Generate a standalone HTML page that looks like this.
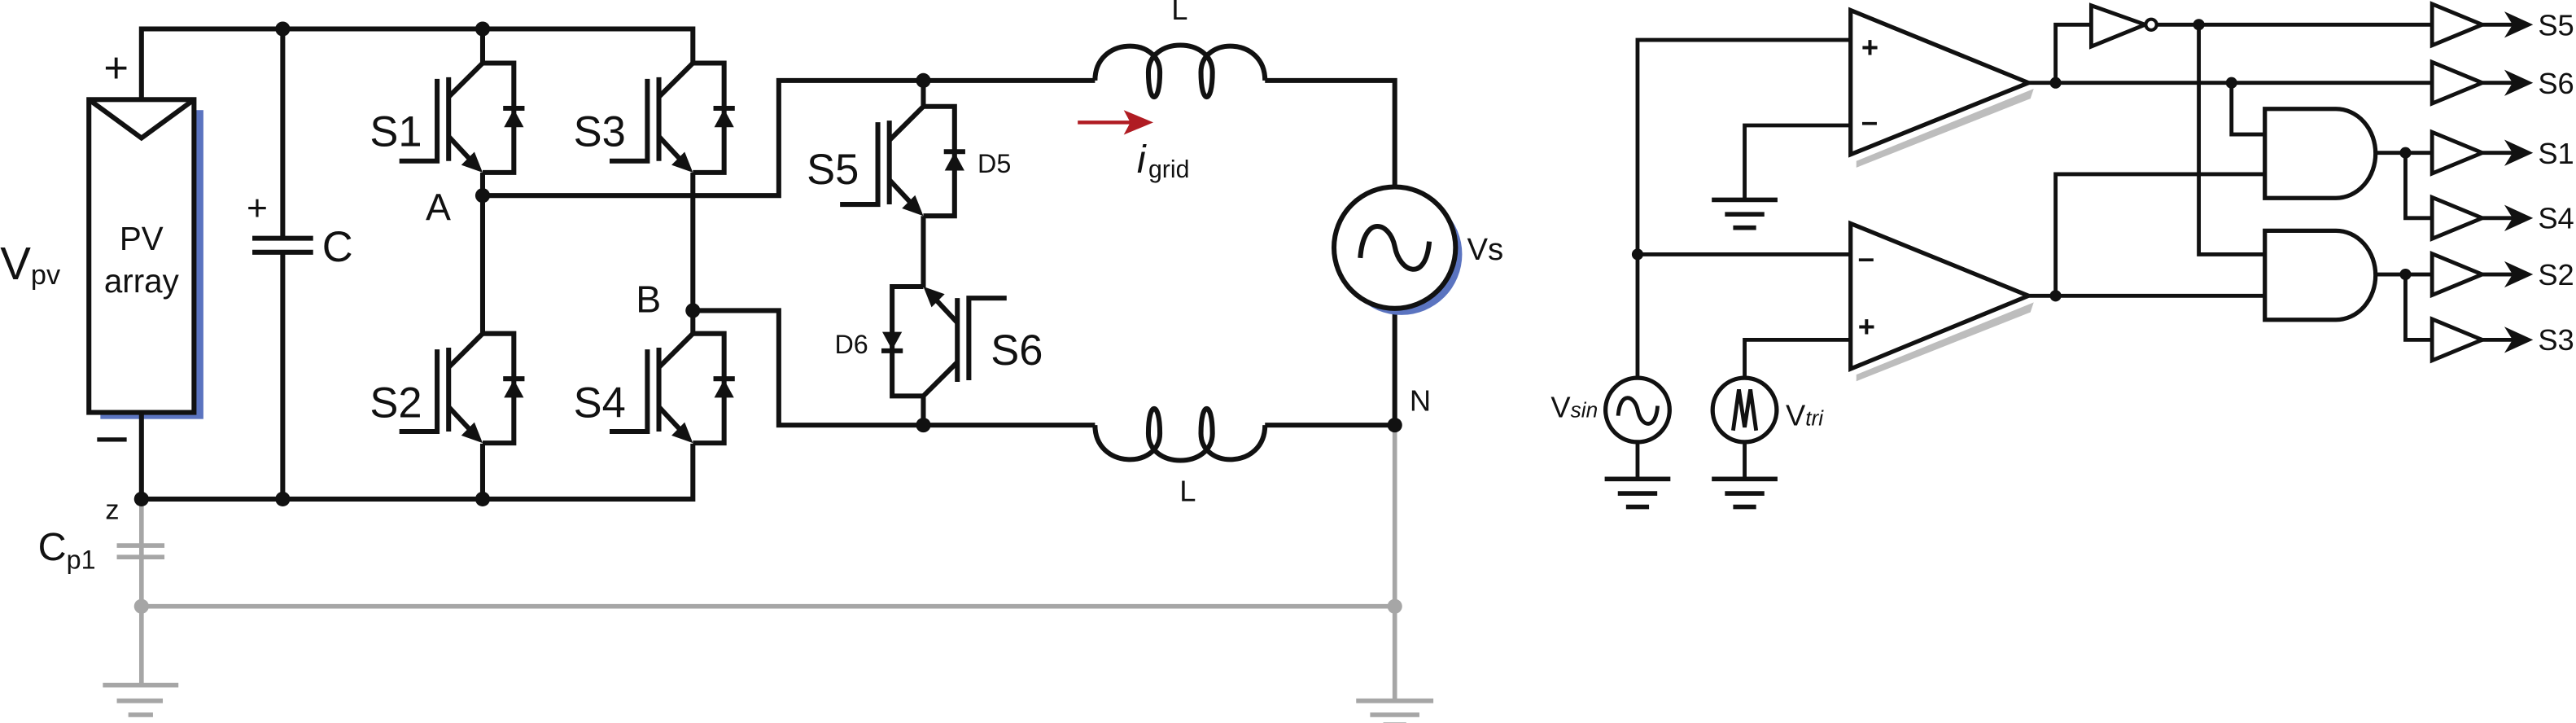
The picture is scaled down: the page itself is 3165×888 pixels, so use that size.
<!DOCTYPE html>
<html><head><meta charset="utf-8"><style>
html,body{margin:0;padding:0;background:#fff;}
svg{display:block;}
text{font-family:"Liberation Sans",sans-serif;fill:#111;}
</style></head><body>
<svg width="3165" height="888" viewBox="0 0 1568 440" xmlns="http://www.w3.org/2000/svg">
<defs>
<g id="igbt" fill="none" stroke="#111" stroke-width="3">
  <polyline points="0,0 -20.7,20.6"/>
  <line x1="-20.7" y1="8.6" x2="-20.7" y2="59.6"/>
  <polyline points="-50.7,59.6 -27.7,59.6 -27.7,9.6"/>
  <line x1="-20.7" y1="44.6" x2="-4" y2="62.5"/>
  <polygon points="0,66.6 -13,62 -5,54" fill="#111" stroke="none"/>
  <polyline points="0,0 19,0 19,66.6 0,66.6"/>
  <polygon points="13,39 25,39 19,28" fill="#111" stroke="none"/>
  <line x1="12.5" y1="27.5" x2="25.5" y2="27.5"/>
</g>
<g id="buf" fill="none" stroke="#111" stroke-width="2.4">
  <polygon points="0,-12.6 0,12.6 30.5,0" fill="#fff"/>
  <line x1="30.5" y1="0" x2="56" y2="0"/>
  <polygon points="61.5,0 44,-8 49,0 44,8" fill="#111" stroke="none"/>
</g>
<g id="gnd" stroke="#111" stroke-width="2.8">
  <line x1="-20" y1="0" x2="20" y2="0"/>
  <line x1="-12" y1="8.8" x2="12" y2="8.8"/>
  <line x1="-7" y1="17" x2="7" y2="17"/>
</g>
</defs>

<g stroke="#a6a6a6" stroke-width="2.8" fill="none">
  <line x1="86" y1="304" x2="86" y2="417"/>
  <line x1="71" y1="332" x2="100" y2="332"/>
  <line x1="71" y1="339" x2="100" y2="339"/>
  <line x1="86" y1="369" x2="849" y2="369"/>
  <line x1="849" y1="259" x2="849" y2="426.5"/>
  <line x1="62.5" y1="417" x2="108.5" y2="417"/>
  <line x1="71" y1="426.5" x2="99" y2="426.5"/>
  <line x1="78" y1="435" x2="93" y2="435"/>
  <line x1="825.5" y1="426.5" x2="872.5" y2="426.5"/>
  <line x1="834" y1="435" x2="864" y2="435"/>
  <line x1="842" y1="441" x2="856" y2="441"/>
</g>
<circle cx="86" cy="369" r="4.5" fill="#a6a6a6"/>
<circle cx="849" cy="369" r="4.5" fill="#a6a6a6"/>

<rect x="61" y="67" width="62.7" height="188" fill="#5b74c0"/>
<rect x="54" y="60.6" width="64" height="190.4" fill="#fff" stroke="#111" stroke-width="3"/>
<polyline points="54,60.6 86,84 118,60.6" fill="none" stroke="#111" stroke-width="3"/>
<text x="86" y="152" font-size="20" text-anchor="middle">PV</text>
<text x="86" y="178" font-size="20" text-anchor="middle">array</text>
<text x="63" y="50" font-size="26">+</text>
<line x1="59" y1="267.5" x2="77" y2="267.5" stroke="#111" stroke-width="2.6"/>
<text x="0" y="170" font-size="28">V<tspan font-size="17" dy="3">pv</tspan></text>
<text x="64" y="316" font-size="17">z</text>
<text x="23" y="341" font-size="24">C<tspan font-size="16" dy="5">p1</tspan></text>

<g fill="none" stroke="#111" stroke-width="3">
  <polyline points="86,60.6 86,17.6 421.7,17.6 421.7,38.4"/>
  <line x1="293.7" y1="17.6" x2="293.7" y2="38.4"/>
  <polyline points="86,251 86,303.7 421.7,303.7 421.7,270"/>
  <line x1="293.7" y1="303.7" x2="293.7" y2="270"/>
  <line x1="172" y1="17.6" x2="172" y2="145"/>
  <line x1="172" y1="153.5" x2="172" y2="303.7"/>
  <line x1="153.5" y1="145" x2="190.5" y2="145"/>
  <line x1="153.5" y1="153.5" x2="190.5" y2="153.5"/>
  <line x1="293.7" y1="105" x2="293.7" y2="203"/>
  <line x1="421.7" y1="105" x2="421.7" y2="203"/>
  <polyline points="293.7,119 474,119 474,49 666.5,49"/>
  <polyline points="421.7,189 474,189 474,258.7 666.5,258.7"/>
  <line x1="562" y1="49" x2="562" y2="64.8"/>
  <line x1="562" y1="131.4" x2="562" y2="175"/>
  <line x1="562" y1="241" x2="562" y2="258.7"/>
  <polyline points="770,49 849,49 849,113.7"/>
  <polyline points="849,187.7 849,258.7 770,258.7"/>
  <path d="M666.5,49 C666.5,22 706,22 706,44 C706,64 699,64 699,44 C699,22 738,22 738,44 C738,64 731,64 731,44 C731,22 770,22 770,49"/>
  <path transform="translate(0,307.7) scale(1,-1)" d="M666.5,49 C666.5,22 706,22 706,44 C706,64 699,64 699,44 C699,22 738,22 738,44 C738,64 731,64 731,44 C731,22 770,22 770,49"/>
</g>
<text x="150" y="134" font-size="22">+</text>
<text x="196" y="159" font-size="26">C</text>

<use href="#igbt" transform="translate(293.7,38.4)"/>
<use href="#igbt" transform="translate(293.7,203)"/>
<use href="#igbt" transform="translate(421.7,38.4)"/>
<use href="#igbt" transform="translate(421.7,203)"/>
<use href="#igbt" transform="translate(562,64.8)"/>
<use href="#igbt" transform="translate(562,241) scale(-1,-1)"/>

<g fill="#111">
<circle cx="172" cy="17.6" r="4.5"/><circle cx="293.7" cy="17.6" r="4.5"/>
<circle cx="86" cy="303.7" r="4.5"/><circle cx="172" cy="303.7" r="4.5"/><circle cx="293.7" cy="303.7" r="4.5"/>
<circle cx="293.7" cy="119" r="4.5"/><circle cx="421.7" cy="189" r="4.5"/>
<circle cx="562" cy="49" r="4.5"/><circle cx="562" cy="258.7" r="4.5"/><circle cx="849" cy="258.7" r="4.5"/>
</g>
<text x="225" y="89" font-size="26">S1</text>
<text x="225" y="254" font-size="26">S2</text>
<text x="349" y="89" font-size="26">S3</text>
<text x="349" y="254" font-size="26">S4</text>
<text x="259" y="134" font-size="23">A</text>
<text x="387" y="190" font-size="23">B</text>
<text x="491" y="112" font-size="26">S5</text>
<text x="603" y="222" font-size="26">S6</text>
<text x="595" y="105" font-size="16">D5</text>
<text x="508" y="215" font-size="16">D6</text>

<line x1="656" y1="74.5" x2="692" y2="74.5" stroke="#b01c23" stroke-width="2.2"/>
<polygon points="702,74.5 684,67 688,74.5 684,82" fill="#b01c23"/>
<text x="692" y="105" font-size="24" font-style="italic" font-family="Liberation Serif, serif">i</text>
<text x="699" y="108" font-size="15">grid</text>
<text x="713" y="12" font-size="18">L</text>
<text x="718" y="305" font-size="18">L</text>

<circle cx="853" cy="154.7" r="37" fill="#5b74c0"/>
<circle cx="849" cy="150.7" r="37" fill="#fff" stroke="#111" stroke-width="3"/>
<path d="M828,157 C830,130 846,135 849,150 C852,166 868,172 870,147" fill="none" stroke="#111" stroke-width="3"/>
<text x="893" y="158" font-size="19">Vs</text>
<text x="858" y="250" font-size="18">N</text>

<g fill="none" stroke="#111" stroke-width="2.4">
  <polyline points="1126.5,24.3 996.8,24.3 996.8,230"/>
  <line x1="996.8" y1="154.8" x2="1126.5" y2="154.8"/>
  <polyline points="1126.5,76.3 1062,76.3 1062,121.6"/>
  <polyline points="1126.5,206.8 1062,206.8 1062,230"/>
  <line x1="996.8" y1="269" x2="996.8" y2="291.5"/>
  <line x1="1062" y1="269" x2="1062" y2="291.5"/>
  <polyline points="1251.3,50.4 1251.3,15 1273,15"/>
  <line x1="1313" y1="15" x2="1480.5" y2="15"/>
  <line x1="1234.8" y1="50.4" x2="1480.5" y2="50.4"/>
  <polyline points="1338.5,15 1338.5,154.8 1378.7,154.8"/>
  <polyline points="1358.4,50.4 1358.4,81.8 1378.7,81.8"/>
  <polyline points="1251.3,180 1251.3,106 1378.7,106"/>
  <polyline points="1234.8,180 1378.7,180"/>
  <polyline points="1446,93 1480.5,93"/>
  <polyline points="1464.3,93 1464.3,132.7 1480.5,132.7"/>
  <polyline points="1446,167 1480.5,167"/>
  <polyline points="1464.3,167 1464.3,206.8 1480.5,206.8"/>
</g>
<polygon points="1130,98 1238,54 1236,60 1130,102" fill="#bdbdbd"/>
<polygon points="1130,228 1238,184 1236,190 1130,232" fill="#bdbdbd"/>
<polygon points="1126.5,6.2 1126.5,94 1234.8,50.4" fill="#fff" stroke="#111" stroke-width="2.6"/>
<polygon points="1126.5,136 1126.5,224.5 1234.8,180" fill="#fff" stroke="#111" stroke-width="2.6"/>
<text x="1133" y="35" font-size="18" font-weight="bold">+</text>
<text x="1133" y="80" font-size="18" font-weight="bold">–</text>
<text x="1131" y="163" font-size="18" font-weight="bold">–</text>
<text x="1131" y="205" font-size="18" font-weight="bold">+</text>
<polygon points="1273,3.3 1273,28.3 1305.8,15" fill="#fff" stroke="#111" stroke-width="2.4"/>
<circle cx="1309.5" cy="15" r="3.3" fill="#fff" stroke="#111" stroke-width="2"/>
<path d="M1378.7,66.3 H1422 A24,27 0 0 1 1422,120.5 H1378.7 Z" fill="#fff" stroke="#111" stroke-width="2.6"/>
<path d="M1378.7,140.4 H1422 A24,27 0 0 1 1422,194.6 H1378.7 Z" fill="#fff" stroke="#111" stroke-width="2.6"/>
<use href="#buf" transform="translate(1480.5,15)"/>
<use href="#buf" transform="translate(1480.5,50.4)"/>
<use href="#buf" transform="translate(1480.5,93)"/>
<use href="#buf" transform="translate(1480.5,132.7)"/>
<use href="#buf" transform="translate(1480.5,167)"/>
<use href="#buf" transform="translate(1480.5,206.8)"/>
<g font-size="18">
<text x="1545" y="21.5">S5</text><text x="1545" y="57">S6</text>
<text x="1545" y="99.5">S1</text><text x="1545" y="139">S4</text>
<text x="1545" y="173.5">S2</text><text x="1545" y="213">S3</text>
</g>
<g fill="#111">
<circle cx="996.8" cy="154.8" r="3.5"/>
<circle cx="1251.3" cy="50.4" r="3.5"/><circle cx="1251.3" cy="180" r="3.5"/>
<circle cx="1338.5" cy="15" r="3.5"/><circle cx="1358.4" cy="50.4" r="3.5"/>
<circle cx="1464.3" cy="93" r="3.5"/><circle cx="1464.3" cy="167" r="3.5"/>
</g>
<circle cx="996.8" cy="249.5" r="19.5" fill="#fff" stroke="#111" stroke-width="2.6"/>
<path d="M985,253 C986,238 995,240 997,250 C999,260 1008,262 1009,247" fill="none" stroke="#111" stroke-width="2.4"/>
<circle cx="1062" cy="249.5" r="19.5" fill="#fff" stroke="#111" stroke-width="2.6"/>
<polyline points="1055,262 1058.5,237 1062,260 1065.5,237 1069,262" fill="none" stroke="#111" stroke-width="2.4"/>
<use href="#gnd" transform="translate(1062,121.6)"/>
<use href="#gnd" transform="translate(996.8,291.5)"/>
<use href="#gnd" transform="translate(1062,291.5)"/>
<text x="944" y="254" font-size="18">V<tspan font-size="13" font-style="italic">sin</tspan></text>
<text x="1087" y="259" font-size="18">V<tspan font-size="13" font-style="italic">tri</tspan></text>
</svg>
</body></html>
